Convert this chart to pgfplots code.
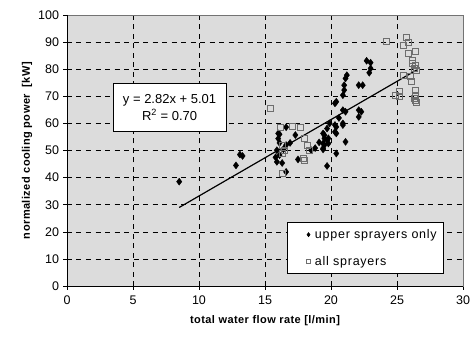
\documentclass[border=0pt]{standalone}
\usepackage{pgfplots}
\pgfplotsset{compat=1.18}
\usepackage{fontspec}
\setmainfont{Liberation Sans}
\newfontfamily\labfont[LetterSpace=4]{Liberation Sans}
\newfontfamily\legfont[LetterSpace=6]{Liberation Sans}
\definecolor{bg}{RGB}{220,220,220}
\definecolor{sqc}{RGB}{110,110,110}

\pgfplotstableread{
x y
8.5 38.5
12.8 44.5
13.1 48.5
13.3 48.0
15.9 50.1
16.0 54.4
16.1 56.0
16.1 52.8
16.0 56.3
16.6 58.6
17.3 55.7
16.9 52.8
16.6 52.0
16.1 48.3
15.9 45.8
16.3 45.4
16.6 42.1
17.5 46.7
16.4 50.5
15.8 47.5
18.5 50.1
19.4 56.3
19.5 54.5
19.5 52.0
19.8 52.6
20.4 56.3
19.4 50.4
20.4 48.9
19.7 44.3
20.9 60.0
21.1 53.2
19.9 60.0
19.7 58.1
19.5 55.7
19.7 53.8
19.4 52.6
19.8 54.5
19.4 50.8
20.4 58.7
20.3 56.9
20.9 59.4
20.3 59.4
20.9 64.9
22.1 64.9
22.3 64.3
22.1 62.4
20.4 68.0
20.3 67.4
20.9 70.4
21.0 72.3
21.0 74.1
21.1 76.6
21.2 77.8
22.1 74.1
22.4 74.1
22.7 83.1
23.0 82.4
23.0 80.3
22.9 78.7
21.1 64.3
20.6 62.0
19.1 53.0
18.8 50.9
}\upper

\pgfplotstableread{
x y
15.4 65.5
16.2 58.7
17.1 59.0
17.7 58.5
18.0 54.5
18.2 52.0
18.4 50.1
17.9 47.1
16.3 41.7
16.3 48.9
16.3 52.0
16.5 50.1
18.0 46.4
24.2 90.1
25.7 91.8
25.9 89.8
25.5 88.9
25.9 85.8
26.4 86.4
26.2 83.4
26.2 82.2
26.4 81.5
26.5 79.7
26.3 80.3
25.5 77.8
26.1 75.4
26.0 77.2
25.2 71.7
25.2 69.8
24.9 70.4
26.4 72.3
26.4 70.4
26.4 68.6
26.5 67.6
26.3 69.2
}\allspr

\begin{document}
\begin{tikzpicture}
\begin{axis}[
  name=ax,
  scale only axis,
  width=396pt, height=271pt,
  xmin=0, xmax=30, ymin=0, ymax=100,
  xtick={0,5,...,30}, ytick={0,10,...,100},
  xtick pos=left, ytick pos=left,
  tick align=center,
  major tick length=7pt,
  tick style={black, line width=0.6pt},
  axis background/.style={fill=bg},
  axis line style={black!55, line width=0.6pt},
  grid=major,
  major grid style={black, line width=0.6pt, dash pattern=on 5pt off 4.5pt},
  /pgf/number format/assume math mode=true,
  ticklabel style={font=\fontsize{12.5}{14}\selectfont},
  xticklabel style={yshift=-3pt},
  yticklabel style={xshift=-1pt},
  xlabel={\labfont\bfseries\fontsize{11}{13}\selectfont total water flow rate [l/min]},
  ylabel={\labfont\bfseries\fontsize{11}{13}\selectfont normalized cooling power\ \ [kW]},
  xlabel style={yshift=-4pt},
  ylabel style={yshift=-1pt},
  legend style={at={(0.556,0.045)}, anchor=south west, draw=black, fill=white,
    font=\legfont\fontsize{12.5}{14}\selectfont, row sep=12pt, inner xsep=4pt, inner ysep=5pt,
    legend cell align=left, line width=0.6pt, nodes={inner xsep=3pt}},
  legend image code/.code={\path[draw=none] (0cm,0cm) -- (0.72cm,0cm);
    \draw[mark repeat=2, mark phase=2, #1, mark size=2pt]
      plot coordinates {(0.48cm,0cm) (0.6cm,0cm) (0.72cm,0cm)};},
  clip=false,
]
\draw[black, line width=0.9pt] (rel axis cs:0,1) -- (rel axis cs:0,0) -- (rel axis cs:1,0);
\addplot[only marks, mark=diamond*, mark size=3.5pt, black] table {\upper};
\addlegendentry{upper sprayers only\hspace{8pt}}
\addplot[only marks, mark=square, mark size=3pt, sqc, mark options={line width=0.8pt}] table {\allspr};
\addlegendentry{all sprayers}
\addplot[black, line width=1.2pt, forget plot] coordinates {(8.5,28.98) (26.5,79.74)};
\node[draw=black, fill=white, minimum width=113pt, minimum height=48pt, align=center,
  font=\fontsize{13}{17}\selectfont, line width=0.6pt]
  at (axis cs:7.77,66) {y = 2.82x + 5.01\\R\textsuperscript{2} = 0.70};
\end{axis}
\pgfresetboundingbox
\path ([xshift=-67pt,yshift=-51.3pt]ax.south west) rectangle ([xshift=13pt,yshift=15pt]ax.north east);
\end{tikzpicture}
\end{document}
